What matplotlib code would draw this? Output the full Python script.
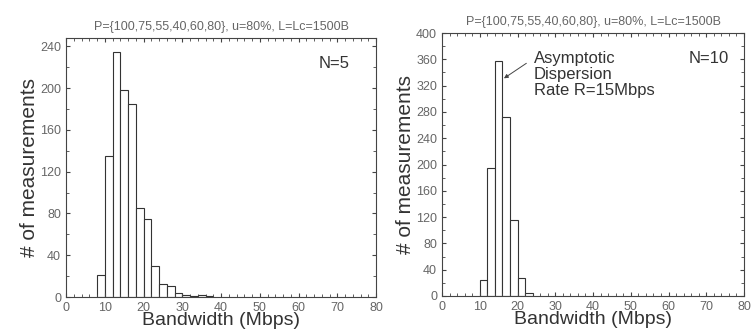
import numpy as np
import matplotlib
matplotlib.use("Agg")
import matplotlib.pyplot as plt
from matplotlib.ticker import MultipleLocator

plt.rcParams["font.family"] = ["Liberation Sans", "DejaVu Sans"]

# Histogram data (2 Mbps bins)
bins_n5 = [8, 10, 12, 14, 16, 18, 20, 22, 24, 26, 28, 30, 32, 34, 36]
counts_n5 = [21, 135, 235, 198, 185, 85, 75, 30, 12, 11, 4, 2, 1, 2, 1]
bins_n10 = [10, 12, 14, 16, 18, 20, 22]
counts_n10 = [24, 194, 358, 272, 115, 28, 5]

title = "P={100,75,55,40,60,80}, u=80%, L=Lc=1500B"
gray = "#666666"

fig = plt.figure(figsize=(7.53, 3.35), dpi=100)
ax1 = fig.add_axes([66 / 753, 1 - 297 / 335, 310 / 753, 259 / 335])
ax2 = fig.add_axes([442 / 753, 1 - 296 / 335, 302 / 753, 263 / 335])

panels = [
    (ax1, bins_n5, counts_n5, 248, "N=5", 0.915),
    (ax2, bins_n10, counts_n10, 400, "N=10", 0.95),
]

for ax, bins, counts, ymax, label, lx in panels:
    ax.bar(bins, counts, width=2, align="edge", facecolor="white",
           edgecolor="#333333", linewidth=0.8)
    ax.set_xlim(0, 80)
    ax.set_ylim(0, ymax)
    ax.xaxis.set_major_locator(MultipleLocator(10))
    ax.xaxis.set_minor_locator(MultipleLocator(2))
    ax.yaxis.set_major_locator(MultipleLocator(40))
    ax.yaxis.set_minor_locator(MultipleLocator(20))
    ax.tick_params(which="both", direction="in", top=True, right=True,
                   labelsize=9, labelcolor=gray, color="#444444")
    ax.tick_params(which="major", length=3)
    ax.tick_params(which="minor", length=2)
    for s in ax.spines.values():
        s.set_color("#444444")
        s.set_linewidth(0.8)
    ax.set_title(title, fontsize=9, color=gray, pad=6)
    ax.set_xlabel("Bandwidth (Mbps)", fontsize=14, color="#333333", labelpad=-1)
    ax.set_ylabel("# of measurements", fontsize=15, color="#333333", labelpad=1)
    ax.text(lx, 0.93, label, transform=ax.transAxes, fontsize=12,
            color="#333333", ha="right", va="top")

ax2.annotate("Asymptotic\nDispersion\nRate R=15Mbps", xy=(16.4, 331), xytext=(24.3, 372),
             fontsize=12, color="#333333", va="top", ha="left", linespacing=1.05,
             arrowprops=dict(arrowstyle="-|>", color="#444444", lw=0.7,
                             shrinkA=4, shrinkB=0, mutation_scale=6,
                             relpos=(0, 0.85)))

fig.savefig("out.png", dpi=100)
